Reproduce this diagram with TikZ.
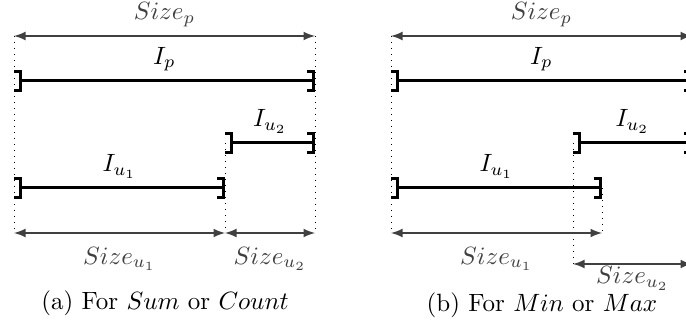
\documentclass[tikz,border=0pt]{standalone}
\usepackage{amsmath}
\usepackage{xcolor}
\usepackage{tikz}
\usetikzlibrary{arrows,positioning,calc}

\begin{document}
\begin{tikzpicture}[x=0.4pt, y=-0.4pt, >=latex]
        % Style definitions
        \tikzset{
            interval/.style={line width=1.2pt, arrows={]-]}},
            size/.style={<->, semithick, black!75},
            sizelbl/.style={text=black!75},
            guide/.style={dotted, thin},
            caption/.style={align=center}
        }

        % Page frame (the right panel is cut at the edge)
        \clip (0,0) rectangle (686,325);

        % (a) For Sum or Count
        \coordinate (aSp1) at (14,36);    \coordinate (aSp2) at (315,36);
        \coordinate (aIp1) at (14,81);    \coordinate (aIp2) at (315,81);
        \coordinate (aIu21) at (225,143); \coordinate (aIu22) at (315,143);
        \coordinate (aIu11) at (14,188);  \coordinate (aIu12) at (225,188);
        \coordinate (aS1) at (14,233);    \coordinate (aS2) at (225,233);
        \coordinate (aS3) at (315,233);

        % Guide lines
        \draw [guide] (aSp1) -- (aS1);
        \draw [guide] (aSp2) -- (aS3);
        \draw [guide] (aIu21) -- (aS2);

        % Intervals
        \draw [interval] (aIp1) -- node [above] (aIp) {$I_p$} (aIp2);
        \draw [interval] (aIu21) -- node [above] (aIu2) {$I_{u_2}$} (aIu22);
        \draw [interval] (aIu11) -- node [above] (aIu1) {$I_{u_1}$} (aIu12);

        % Sizes
        \draw [size] (aSp1) -- node [above, sizelbl] (aSizep) {$Size_p$} (aSp2);
        \draw [size] (aS1) -- node [below=2pt, sizelbl] (aSizeu1) {$Size_{u_1}$} (aS2);
        \draw [size] (aS2) -- node [below=2pt, sizelbl] (aSizeu2) {$Size_{u_2}$} (aS3);

        \node [caption] (capA) at (165,303) {(a) For $Sum$ or $Count$};

        % (b) For Min or Max
        \coordinate (bSp1) at (391,36);   \coordinate (bSp2) at (692,36);
        \coordinate (bIp1) at (391,81);   \coordinate (bIp2) at (692,81);
        \coordinate (bIu21) at (573,143); \coordinate (bIu22) at (692,143);
        \coordinate (bIu11) at (391,188); \coordinate (bIu12) at (602,188);
        \coordinate (bS1) at (391,233);   \coordinate (bS2) at (602,233);
        \coordinate (bS3) at (573,264);   \coordinate (bS4) at (692,264);

        % Guide lines
        \draw [guide] (bSp1) -- (bS1);
        \draw [guide] (bSp2) -- (bS4);
        \draw [guide] (bIu21) -- (bS3);
        \draw [guide] (bIu12) -- (bS2);

        % Intervals
        \draw [interval] (bIp1) -- node [above] (bIp) {$I_p$} (bIp2);
        \draw [interval] (bIu21) -- node [above] (bIu2) {$I_{u_2}$} (bIu22);
        \draw [interval] (bIu11) -- node [above] (bIu1) {$I_{u_1}$} (bIu12);

        % Sizes
        \draw [size] (bSp1) -- node [above, sizelbl] (bSizep) {$Size_p$} (bSp2);
        \draw [size] (bS1) -- node [below=2pt, sizelbl] (bSizeu1) {$Size_{u_1}$} (bS2);
        \draw [size] (bS3) -- node [below, inner sep=0.8pt, sizelbl] (bSizeu2) {$Size_{u_2}$} (bS4);

        \node [caption] (capB) at (542,305) {(b) For $Min$ or $Max$};
\end{tikzpicture}
\end{document}
